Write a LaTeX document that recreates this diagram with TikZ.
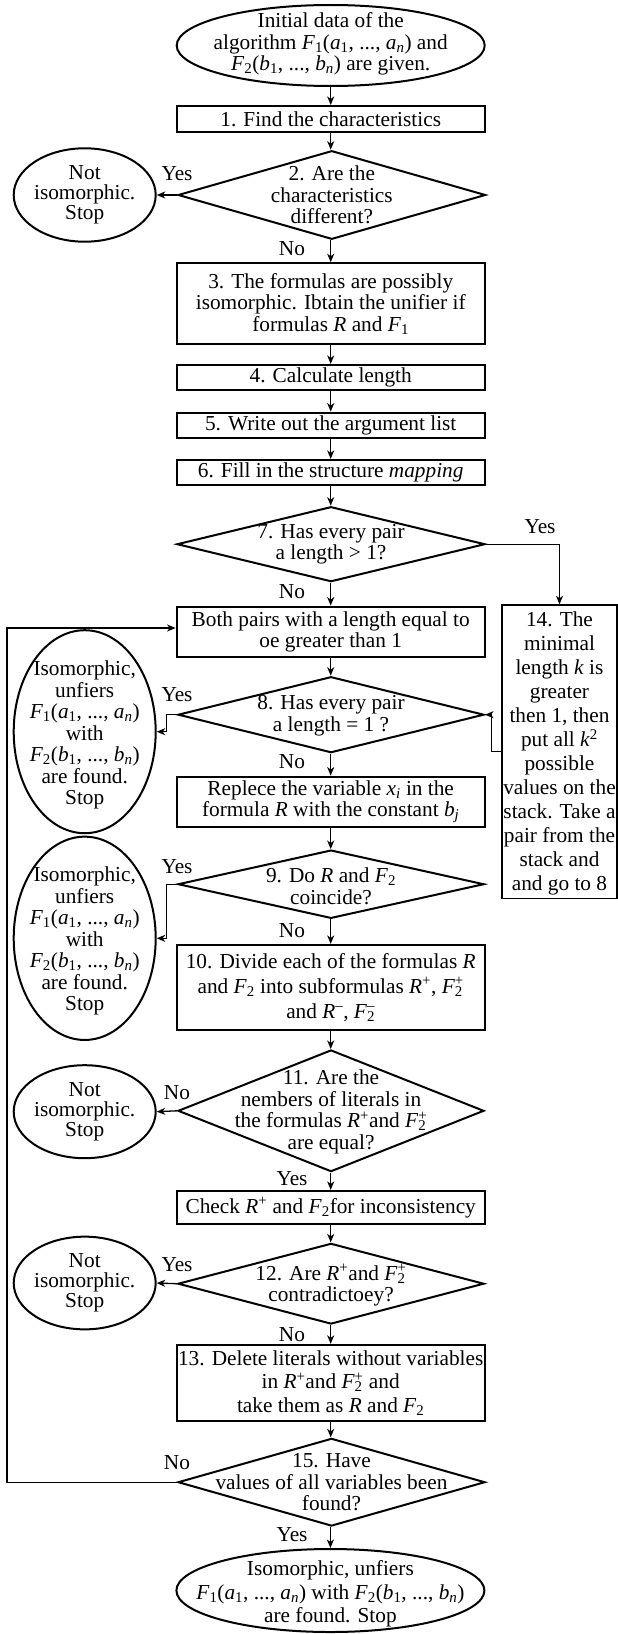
\documentclass[tikz,border=0pt]{standalone}
\usepackage{fontspec}
\setmainfont{Liberation Serif}
\usetikzlibrary{shapes.geometric,arrows.meta,calc}

\newcommand{\myFs}[1]{\textit{F}\textsubscript{#1}}
\newcommand{\myvs}[2]{\textit{#1}\textsubscript{#2}}
\newcommand{\myFA}{\myFs{1}(\myvs{a}{1}, ..., \myvs{a}{\textit{n}})}
\newcommand{\myFB}{\myFs{2}(\myvs{b}{1}, ..., \myvs{b}{\textit{n}})}
\newcommand{\myRp}{\textit{R}\textsuperscript{+}}
\newcommand{\myRm}{\textit{R}\textsuperscript{–}}
\newcommand{\mysupsub}[2]{\setbox0=\hbox{\textsuperscript{#1}}\setbox2=\hbox{\textsubscript{#2}}\ifdim\wd0>\wd2 \rlap{\box2}\box0 \else\rlap{\box0}\box2 \fi}
\newcommand{\myFtp}{\textit{F}\mysupsub{+}{2}}
\newcommand{\myFtm}{\textit{F}\mysupsub{–}{2}}

\tikzset{
  box/.style={draw, line width=2.2bp, minimum width=308bp, inner sep=0pt, align=center},
  dia/.style={draw, diamond, line width=2bp, inner sep=0pt},
  ell/.style={draw, ellipse, line width=2bp, inner sep=0pt},
  txt/.style={align=center, inner sep=0pt},
  lbl/.style={inner sep=0pt},
  arr/.style={-{Stealth[length=8.5bp,width=7bp,inset=2.5bp]}, line width=1.3bp},
}

\begin{document}
\begin{tikzpicture}[x=1bp, y=-1bp, font=\fontsize{21.3bp}{21.5bp}\selectfont]
\useasboundingbox (0,0) rectangle (618,1634);

% main column
\node[ell, minimum width=308bp, minimum height=81bp] (start) at (330.7,45.5) {};
\node[txt] (tstart) at (330.7,44) {Initial data of the\\algorithm \myFA{} and\\\myFB{} are given.};

\node[box, minimum height=25.7bp] (b1) at (330.7,118.9) {1. Find the characteristics};

\node[dia, minimum width=307.6bp, minimum height=88.6bp] (d2) at (331.8,195) {};
\node[txt] (t2) at (d2) {2. Are the\\characteristics\\different?};

\node[ell, minimum width=142bp, minimum height=93.4bp] (n1) at (84.7,195) {};
\node[txt, font=\fontsize{21.3bp}{20bp}\selectfont] (tn1) at (n1) {Not\\isomorphic.\\Stop};

\node[box, minimum height=80.7bp] (b3) at (330.7,303.7) {3. The formulas are possibly\\isomorphic. Ibtain the unifier if\\formulas \textit{R} and \myFs{1}};
\node[box, minimum height=25bp] (b4) at (330.7,377.5) {4. Calculate length};
\node[box, minimum height=25bp] (b5) at (330.7,425.2) {5. Write out the argument list};
\node[box, minimum height=25bp] (b6) at (330.7,472.5) {6. Fill in the structure \textit{mapping}};

\node[dia, minimum width=308bp, minimum height=75bp] (d7) at (331,544.2) {};
\node[txt] (t7) at (d7) {7. Has every pair\\a length > 1?};

\node[box, minimum height=50.6bp] (bp) at (330.7,632) {Both pairs with a length equal to\\oe greater than 1};

\node[draw, line width=1.3bp, minimum width=115bp, minimum height=293.3bp, inner sep=0pt] (b14) at (559.5,751.6) {};
\node[txt, font=\fontsize{21.3bp}{24bp}\selectfont] (t14) at (559.5,753.5) {14. The\\minimal\\length \textit{k} is\\greater\\then 1, then\\put all \textit{k}\textsuperscript{2}\\possible\\values on the\\stack. Take a\\pair from the\\stack and\\and go to 8};

\node[dia, minimum width=306bp, minimum height=76bp] (d8) at (331,714.7) {};
\node[txt] (t8) at (331,715.5) {8. Has every pair\\a length = 1 ?};

\node[ell, minimum width=142bp, minimum height=203bp] (i1) at (84.7,731.7) {};
\node[txt] (ti1) at (84.7,735) {Isomorphic,\\unfiers\\\myFA\\with\\\myFB\\are found.\\Stop};

\node[box, minimum height=50bp] (rb) at (330.7,801.7) {Replece the variable \myvs{x}{\textit{i}} in the\\formula \textit{R} with the constant \myvs{b}{\textit{j}}};

\node[dia, minimum width=306bp, minimum height=68.3bp] (d9) at (331,884.2) {};
\node[txt] (t9) at (331,886) {9. Do \textit{R} and \myFs{2}\\coincide?};

\node[ell, minimum width=142bp, minimum height=203.3bp] (i2) at (84.7,938.3) {};
\node[txt] (ti2) at (84.7,941) {Isomorphic,\\unfiers\\\myFA\\with\\\myFB\\are found.\\Stop};

\node[box, minimum height=85bp, font=\fontsize{21.3bp}{25bp}\selectfont] (b10) at (330.7,987.5) {10. Divide each of the formulas \textit{R}\\and \myFs{2} into subformulas \myRp, \myFtp\\and \myRm, \myFtm};

\node[dia, minimum width=306bp, minimum height=121.7bp] (d11) at (331,1110.8) {};
\node[txt] (t11) at (331,1112) {11. Are the\\nembers of literals in\\the formulas \myRp and \myFtp\\are equal?};

\node[ell, minimum width=142bp, minimum height=93bp] (n2) at (84.7,1111.7) {};
\node[txt, font=\fontsize{21.3bp}{20bp}\selectfont] (tn2) at (n2) {Not\\isomorphic.\\Stop};

\node[box, minimum height=33bp] (bc) at (330.7,1207.5) {Check \myRp{} and \myFs{2}for inconsistency};

\node[dia, minimum width=306bp, minimum height=80.7bp] (d12) at (331,1283.7) {};
\node[txt] (t12) at (331,1285.5) {12. Are \myRp and \myFtp\\contradictoey?};

\node[ell, minimum width=142bp, minimum height=92.7bp] (n3) at (84.7,1283) {};
\node[txt, font=\fontsize{21.3bp}{20bp}\selectfont] (tn3) at (n3) {Not\\isomorphic.\\Stop};

\node[box, minimum height=75.7bp, font=\fontsize{21.3bp}{23.5bp}\selectfont] (b13) at (330.7,1382.8) {13. Delete literals without variables\\in \myRp and \myFtp{} and\\take them as \textit{R} and \myFs{2}};

\node[dia, minimum width=307bp, minimum height=87.7bp] (d15) at (331.5,1482.2) {};
\node[txt] (t15) at (d15) {15. Have\\values of all variables been\\found?};

\node[ell, minimum width=308bp, minimum height=83bp] (fin) at (330.4,1590.5) {};
\node[txt, font=\fontsize{21.3bp}{23.3bp}\selectfont] (tfin) at (330.4,1594) {Isomorphic, unfiers\\\myFA{} with \myFB\\are found. Stop};

% labels
\node[lbl] (y2) at (177,174) {Yes};
\node[lbl] (no2) at (292,249) {No};
\node[lbl] (y7) at (540,527) {Yes};
\node[lbl] (no7) at (292,592) {No};
\node[lbl] (y8) at (177,695) {Yes};
\node[lbl] (no8) at (292,762) {No};
\node[lbl] (y9) at (177,867) {Yes};
\node[lbl] (no9) at (292,931) {No};
\node[lbl] (no11) at (177,1093) {No};
\node[lbl] (y11) at (292,1179) {Yes};
\node[lbl] (y12) at (177,1265) {Yes};
\node[lbl] (no12) at (292,1335) {No};
\node[lbl] (no15) at (177,1463) {No};
\node[lbl] (y15) at (292,1535) {Yes};

% connectors
\draw[arr] (start) -- (b1);
\draw[arr] (b1) -- (b1 |- d2.north);
\draw[arr] (d2.west) -- (n1.east);
\draw[arr] (d2.south -| b3.north) -- (b3.north);
\draw[arr] (b3) -- (b4);
\draw[arr] (b4) -- (b5);
\draw[arr] (b5) -- (b6);
\draw[arr] (b6.south) -- (b6.south |- d7.north);
\draw[arr] (d7.east) -| (b14.north);
\draw[arr] (d7.south -| bp.north) -- (bp.north);
\draw[arr] (bp.south) -- (bp.south |- d8.north);
\draw[arr] (b14.west) -- ++(-10,0) |- (d8.east);
\draw[arr] (d8.west) -- ++(-10.5,0) |- (i1.east);
\draw[arr] (d8.south -| rb.north) -- (rb.north);
\draw[arr] (rb.south) -- (rb.south |- d9.north);
\draw[arr] (d9.west) -- ++(-10.5,0) |- (i2.east);
\draw[arr] (d9.south -| b10.north) -- (b10.north);
\draw[arr] (b10.south) -- (b10.south |- d11.north);
\draw[arr] (d11.west) -- (n2.east);
\draw[arr] (d11.south -| bc.north) -- (bc.north);
\draw[arr] (bc.south) -- (bc.south |- d12.north);
\draw[arr] (d12.west) -- (n3.east);
\draw[arr] (d12.south -| b13.north) -- (b13.north);
\draw[arr] (b13.south) -- (b13.south |- d15.north);
\draw[arr] (d15.south -| fin.north) -- (fin.north);
\draw[arr] (d15.west) -- ++(-170.1,0) |- ([yshift=4bp]bp.west);
\end{tikzpicture}
\end{document}
